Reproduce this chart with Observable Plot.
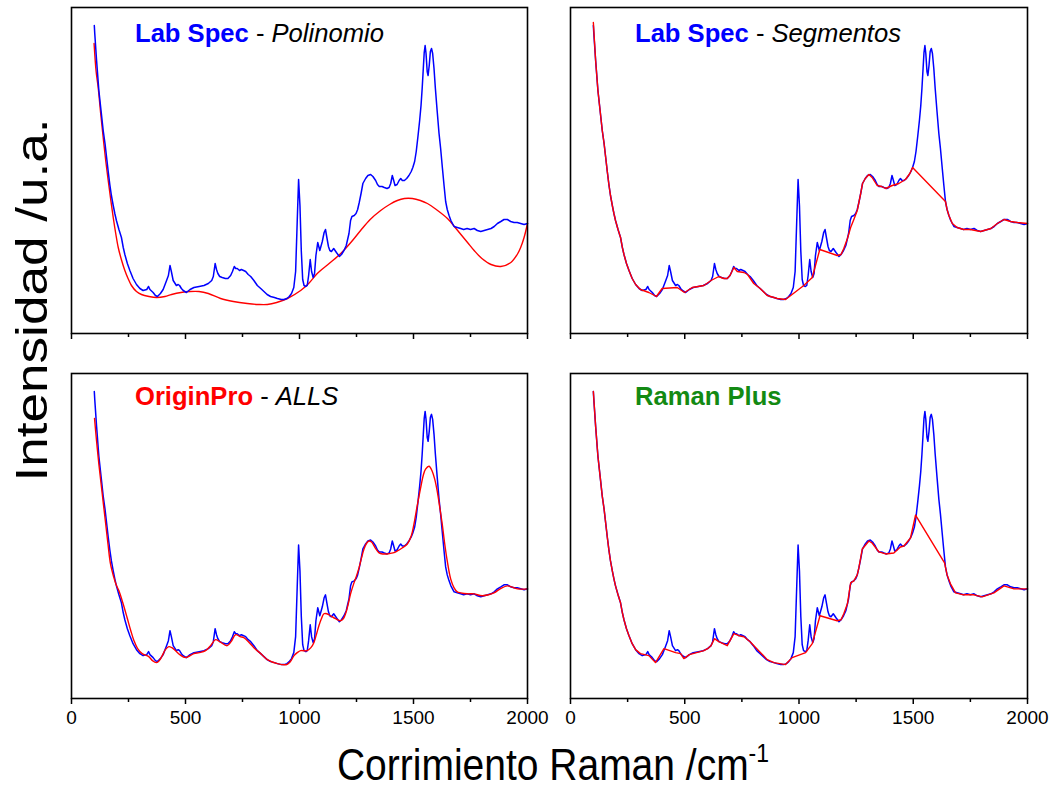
<!DOCTYPE html>
<html>
<head>
<meta charset="utf-8">
<script src="https://cdn.jsdelivr.net/npm/d3@7"></script>
<script src="https://cdn.jsdelivr.net/npm/@observablehq/plot@0.6"></script>
<style>
  html, body { margin: 0; padding: 0; background: white; }
  #chart { position: relative; width: 1058px; height: 791px; overflow: hidden; background: white; }
  #chart > .panel { position: absolute; }
  #overlay { position: absolute; left: 0; top: 0; pointer-events: none; }
</style>
</head>
<body>
<div id="chart"></div>
<script>
// Raman spectrum (blue), shared by all four panels: [Raman shift cm-1, intensity a.u.]
const rawSpectrum = [[100,308],[102,300],[110,273],[120,243],[130,222],[139,203],[147,190],[154,176],[161,162],[168,149],[175,138],[183,128],[190,120],[197,113],[208,104],[219,96],[227,86],[234,79],[245,70],[256,63],[270,55],[285,49],[300,45],[314,43],[330,44],[338,47],[344,44],[358,41],[368,38],[377,37],[390,40],[402,44],[417,53],[425,58],[432,68],[438,62],[446,53],[460,48],[468,49],[474,48],[482,45],[490,43],[504,41],[520,44],[537,46],[560,47],[581,48],[600,50],[615,53],[622,57],[630,70],[636,64],[642,60],[650,57],[661,56],[675,55],[686,55],[698,58],[706,62],[714,67],[720,65],[727,65],[737,63],[745,64],[755,63],[764,62],[775,59],[786,57],[800,53],[815,48],[830,45],[844,42],[858,39],[873,37],[890,36],[903,35],[920,34],[932,34],[945,35],[955,37],[965,40],[975,46],[983,62],[990,112],[996,154],[1002,128],[1008,82],[1014,54],[1020,48],[1028,47],[1034,48],[1040,58],[1047,74],[1053,62],[1060,56],[1066,60],[1072,78],[1080,91],[1089,83],[1100,92],[1108,101],[1114,104],[1120,96],[1127,87],[1133,83],[1140,82],[1150,85],[1162,81],[1175,77],[1184,79],[1195,83],[1205,88],[1212,95],[1217,100],[1224,113],[1230,117],[1240,118],[1248,120],[1255,124],[1262,131],[1270,140],[1278,150],[1290,155],[1300,158],[1312,159],[1322,157],[1334,153],[1342,149],[1350,147],[1362,147],[1372,146],[1384,145],[1393,146],[1400,150],[1407,158],[1412,154],[1419,148],[1428,149],[1437,153],[1444,155],[1451,153],[1460,153],[1470,155],[1480,158],[1490,162],[1497,166],[1505,172],[1512,182],[1520,198],[1527,213],[1533,228],[1538,245],[1543,265],[1547,281],[1551,288],[1555,280],[1560,262],[1564,258],[1569,268],[1574,282],[1579,285],[1584,280],[1590,265],[1596,245],[1604,222],[1612,200],[1619,185],[1627,165],[1634,148],[1641,132],[1648,124],[1656,118],[1664,113],[1678,107],[1692,106],[1707,105],[1720,104],[1735,105],[1750,104],[1766,105],[1780,103],[1795,102],[1810,103],[1825,104],[1840,105],[1854,107],[1868,110],[1883,112],[1897,114],[1912,114],[1926,112],[1941,111],[1955,111],[1970,110],[1985,109],[2000,110]];

// Baselines (red)
const polyBaseline = [[99,290],[108,262],[117,246],[128,220],[139,196],[150,173],[161,153],[172,134],[183,116],[194,100],[205,86],[220,73],[234,63],[248,55],[263,48],[285,42],[307,39],[340,37],[373,36],[410,37],[439,39],[480,41],[520,42],[559,42],[600,40],[654,35],[710,32],[771,30],[820,29],[859,29],[900,31],[947,35],[1005,43],[1040,50],[1078,60],[1130,70],[1181,80],[1225,91],[1268,103],[1310,114],[1356,123],[1395,129],[1429,133],[1460,135],[1495,135],[1530,133],[1561,130],[1600,124],[1649,115],[1690,104],[1737,91],[1766,83],[1800,75],[1840,69],[1883,67],[1927,71],[1955,79],[1970,86],[1985,96],[2000,110]];

const segmentBaseline = [[100,311],[110,273],[120,243],[130,222],[139,203],[147,190],[154,176],[161,162],[168,149],[175,138],[183,128],[190,120],[197,113],[208,104],[219,96],[227,86],[234,79],[245,70],[256,63],[270,55],[285,49],[306,44],[343,41],[376,37],[401,45],[467,46],[499,41],[533,46],[584,48],[615,53],[649,57],[670,55],[686,55],[698,58],[715,66],[730,62],[759,61],[775,59],[802,50],[830,45],[861,38],[905,35],[941,34],[1021,48],[1058,56],[1091,84],[1167,78],[1184,79],[1196,85],[1212,95],[1226,106],[1240,114],[1255,123],[1270,140],[1278,150],[1290,155],[1306,159],[1320,156],[1342,148],[1362,147],[1379,145],[1408,148],[1437,150],[1466,154],[1485,160],[1497,166],[1641,132],[1648,124],[1656,118],[1671,110],[1692,106],[1720,104],[1750,104],[1795,102],[1840,105],[1868,110],[1897,114],[1926,112],[1955,111],[2000,110]];

const allsBaseline = [[101,281],[110,258],[120,235],[135,205],[150,175],[160,155],[171,135],[185,122],[196,114],[208,108],[225,96],[244,81],[260,68],[274,58],[290,50],[310,45],[339,42],[355,38],[373,36],[385,38],[398,43],[412,49],[427,52],[440,51],[456,48],[475,44],[500,41],[537,45],[560,46],[588,48],[610,53],[632,59],[650,57],[683,53],[700,57],[720,64],[740,62],[756,61],[780,56],[800,51],[830,45],[859,39],[903,35],[944,34],[960,37],[976,43],[990,46],[1005,48],[1034,48],[1050,51],[1063,56],[1075,65],[1085,73],[1096,80],[1107,85],[1120,85],[1136,83],[1158,80],[1180,78],[1192,80],[1202,85],[1213,94],[1224,105],[1239,116],[1250,123],[1261,131],[1272,141],[1283,150],[1295,156],[1305,158],[1316,157],[1327,153],[1338,149],[1349,146],[1365,145],[1385,145],[1410,146],[1429,148],[1450,151],[1473,155],[1490,163],[1502,175],[1516,193],[1531,211],[1543,224],[1553,230],[1568,233],[1582,228],[1593,220],[1604,208],[1615,192],[1626,175],[1637,155],[1648,138],[1663,120],[1678,111],[1692,107],[1707,106],[1735,105],[1765,105],[1802,103],[1853,106],[1880,110],[1912,113],[1956,110],[2000,110]];

const ramanPlusBaseline = [[100,308],[110,273],[120,243],[130,222],[139,203],[147,190],[154,176],[161,162],[168,149],[175,138],[183,128],[190,120],[197,113],[208,104],[219,96],[227,86],[234,79],[245,70],[256,63],[270,55],[285,49],[306,45],[343,43],[372,36],[409,50],[460,46],[482,45],[496,40],[520,44],[584,48],[600,50],[615,53],[630,60],[649,57],[686,53],[715,65],[737,63],[759,62],[786,57],[832,46],[861,39],[890,36],[941,34],[970,41],[1029,46],[1058,55],[1092,83],[1167,78],[1184,79],[1196,85],[1212,95],[1226,116],[1240,118],[1255,124],[1262,131],[1277,150],[1306,158],[1320,156],[1350,147],[1379,145],[1415,146],[1444,152],[1459,153],[1488,161],[1510,184],[1637,136],[1648,124],[1663,115],[1685,106],[1720,104],[1765,104],[1802,102],[1853,106],[1897,113],[1941,110],[2000,110]];

// Axis ticks
const majorTicks = [0, 500, 1000, 1500, 2000];
const minorTicks = [250, 750, 1250, 1750];

const xDomain = [0, 2000];
const yDomain = [0, 326];

function makePanel(cfg) {
  const lineBlue = Plot.line(rawSpectrum, {stroke: "#0000ff", strokeWidth: 1.5});
  const lineRed = Plot.line(cfg.baseline, {stroke: "#ff0000", strokeWidth: 1.4, curve: cfg.curve || "linear"});
  const plot = Plot.plot({
    width: cfg.width,
    height: cfg.height,
    marginLeft: cfg.ml, marginRight: cfg.mr, marginTop: cfg.mt, marginBottom: cfg.mb,
    x: {domain: xDomain},
    y: {domain: yDomain, axis: null},
    style: {fontFamily: "'Liberation Sans', Arial, sans-serif", fontSize: "19px", color: "black", background: "transparent", overflow: "visible"},
    marks: [
      Plot.axisX(majorTicks, {tickSize: 6, tickPadding: 6, strokeWidth: 1.5, label: null,
        tickFormat: cfg.labels ? (d => String(d)) : (() => "")}),
      Plot.axisX(minorTicks, {tickSize: 4, strokeWidth: 1.5, label: null, tickFormat: () => ""}),
      ...(cfg.blueOnTop ? [lineRed, lineBlue] : [lineBlue, lineRed]),
      Plot.frame({stroke: "black", strokeWidth: 1.6})
    ]
  });
  plot.classList.add("panel");
  plot.style.left = cfg.left + "px";
  plot.style.top = cfg.top + "px";
  return plot;
}

const chart = document.getElementById("chart");
chart.append(
  makePanel({left: 0, top: 0, width: 545, height: 345, ml: 71, mr: 18, mt: 7, mb: 12, baseline: polyBaseline, curve: "catmull-rom", labels: false, blueOnTop: true}),
  makePanel({left: 545, top: 0, width: 513, height: 345, ml: 25, mr: 31, mt: 7, mb: 12, baseline: segmentBaseline, labels: false}),
  makePanel({left: 0, top: 345, width: 545, height: 390, ml: 71, mr: 18, mt: 28, mb: 37, baseline: allsBaseline, curve: "catmull-rom", labels: true}),
  makePanel({left: 545, top: 345, width: 513, height: 390, ml: 25, mr: 31, mt: 28, mb: 37, baseline: ramanPlusBaseline, labels: true})
);

// Titles and axis labels overlay
const NS = "http://www.w3.org/2000/svg";
const overlay = document.createElementNS(NS, "svg");
overlay.setAttribute("id", "overlay");
overlay.setAttribute("width", 1058);
overlay.setAttribute("height", 791);
overlay.setAttribute("font-family", "'Liberation Sans', Arial, sans-serif");

const panelTitles = [
  {x: 135, y: 42, main: "Lab Spec", color: "#0000ff", method: "Polinomio"},
  {x: 635, y: 42, main: "Lab Spec", color: "#0000ff", method: "Segmentos"},
  {x: 135, y: 405, main: "OriginPro", color: "#ff0000", method: "ALLS"},
  {x: 635, y: 405, main: "Raman Plus", color: "#138a13", method: null}
];

function addText(parent, attrs, content) {
  const t = document.createElementNS(NS, "text");
  for (const k in attrs) t.setAttribute(k, attrs[k]);
  if (content != null) t.textContent = content;
  parent.appendChild(t);
  return t;
}
function addTspan(parent, attrs, content) {
  const t = document.createElementNS(NS, "tspan");
  for (const k in attrs) t.setAttribute(k, attrs[k]);
  t.textContent = content;
  parent.appendChild(t);
  return t;
}

for (const p of panelTitles) {
  const t = addText(overlay, {x: p.x, y: p.y, "font-size": 25.6});
  addTspan(t, {fill: p.color, "font-weight": "bold"}, p.main);
  if (p.method) {
    addTspan(t, {fill: "black"}, " - ");
    addTspan(t, {fill: "black", "font-style": "italic"}, p.method);
  }
}

// x-axis label
const gx = document.createElementNS(NS, "g");
gx.setAttribute("transform", "translate(553,780) scale(1,1.15)");
overlay.appendChild(gx);
const xl = addText(gx, {x: 0, y: 0, "text-anchor": "middle", "font-size": 39, fill: "black"});
addTspan(xl, {}, "Corrimiento Raman /cm");
addTspan(xl, {"font-size": 23, dy: -16}, "-1");

// y-axis label
const gy = document.createElementNS(NS, "g");
gy.setAttribute("transform", "translate(47,300) rotate(-90) scale(1.18,1)");
overlay.appendChild(gy);
addText(gy, {x: 0, y: 0, "text-anchor": "middle", "font-size": 45, fill: "black"}, "Intensidad /u.a.");

chart.appendChild(overlay);
</script>
</body>
</html>
